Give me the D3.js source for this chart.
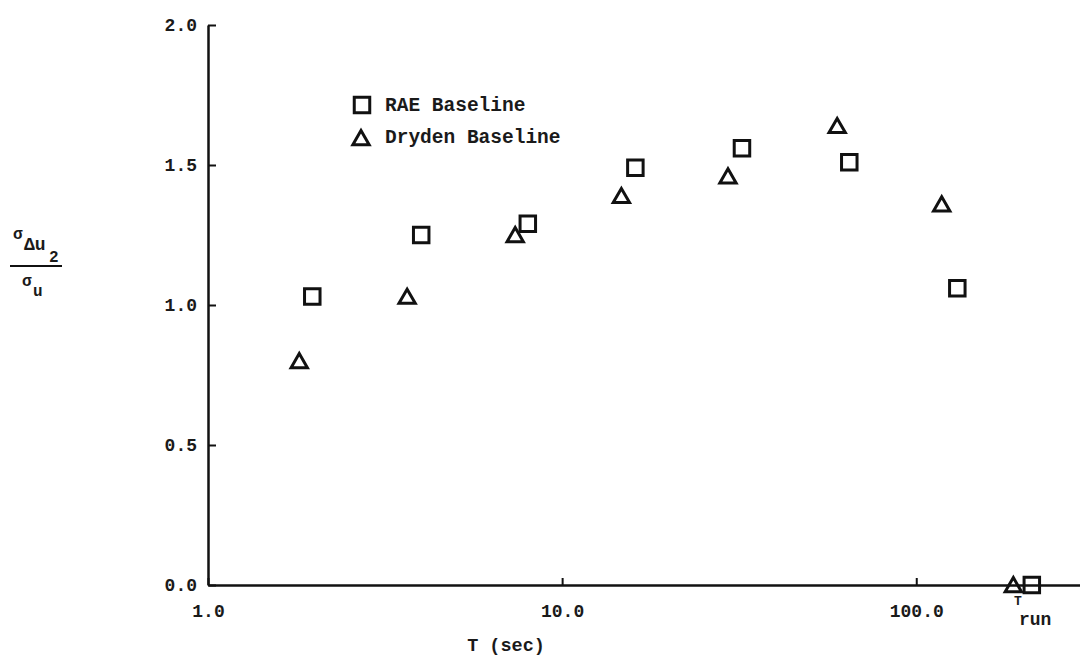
<!DOCTYPE html>
<html>
<head>
<meta charset="utf-8">
<script src="https://cdn.jsdelivr.net/npm/d3@7"></script>
<style>
  body { margin: 0; background: #fff; }
  text { font-family: "Liberation Mono", "DejaVu Sans Mono", monospace; fill: #1a1a1a; }
</style>
</head>
<body>
<svg id="drawing_region"></svg>
<script>
// values
const raeT = [1.97, 4.0, 8.0, 16.1, 32.2, 64.7, 130.6, 212];
const raeRatio = [1.03, 1.25, 1.29, 1.49, 1.56, 1.51, 1.06, 0.0];
const drydenT = [1.81, 3.65, 7.37, 14.7, 29.4, 59.8, 118, 188];
const drydenRatio = [0.80, 1.03, 1.25, 1.39, 1.46, 1.64, 1.36, 0.0];
const xTicks = [1, 10, 100];
const yTicks = [0, 0.5, 1.0, 1.5, 2.0];
const legendLabels = ["RAE Baseline", "Dryden Baseline"];

const width = 1080, height = 657;
const svg = d3.select('#drawing_region')
    .attr('width', width)
    .attr('height', height);

const x = d3.scaleLog()
    .domain([1, 290])
    .range([208, 1080]);

const y = d3.scaleLinear()
    .domain([0, 2])
    .range([585, 25]);

// axes, ticks pointing inward
const xAxis = svg.append('g')
    .attr('transform', `translate(0, ${y(0)})`)
    .call(d3.axisBottom(x)
        .tickValues(xTicks)
        .tickFormat(d3.format('.1f'))
        .tickSize(-7)
        .tickSizeOuter(0)
        .tickPadding(32));

const yAxis = svg.append('g')
    .attr('transform', `translate(${x(1)}, 0)`)
    .call(d3.axisLeft(y)
        .tickValues(yTicks)
        .tickFormat(d3.format('.1f'))
        .tickSize(-8)
        .tickSizeOuter(0)
        .tickPadding(11));

[xAxis, yAxis].forEach(g => {
    g.select('.domain').attr('stroke', '#111').attr('stroke-width', 2.5);
    g.selectAll('.tick line').attr('stroke', '#111').attr('stroke-width', 2);
    g.selectAll('.tick text')
        .attr('font-size', '18px')
        .attr('font-weight', 700)
        .style('font-family', '"Liberation Mono", monospace')
        .attr('fill', '#1a1a1a');
});
xAxis.selectAll('.tick text').attr('dy', '0');

// markers
const square = d3.symbol().type(d3.symbolSquare).size(240);
const triangle = d3.symbol().type(d3.symbolTriangle).size(115);

svg.append('g').selectAll('path')
    .data(raeT.map((t, i) => [t, raeRatio[i]]))
    .enter()
    .append('path')
    .attr('transform', d => `translate(${x(d[0])}, ${y(d[1])})`)
    .attr('d', square)
    .attr('fill', 'none')
    .attr('stroke', '#111')
    .attr('stroke-width', 3);

svg.append('g').selectAll('path')
    .data(drydenT.map((t, i) => [t, drydenRatio[i]]))
    .enter()
    .append('path')
    .attr('transform', d => `translate(${x(d[0])}, ${y(d[1]) + 2})`)
    .attr('d', triangle)
    .attr('fill', 'none')
    .attr('stroke', '#111')
    .attr('stroke-width', 3);

// legend
const legend = svg.append('g').attr('transform', 'translate(362, 105)');
legend.append('path')
    .attr('d', square)
    .attr('fill', 'none')
    .attr('stroke', '#111')
    .attr('stroke-width', 3);
legend.append('path')
    .attr('transform', 'translate(-1, 35)')
    .attr('d', triangle)
    .attr('fill', 'none')
    .attr('stroke', '#111')
    .attr('stroke-width', 3);
legend.selectAll('text')
    .data(legendLabels)
    .enter()
    .append('text')
    .attr('x', 23)
    .attr('y', (d, i) => i * 32 + 6)
    .attr('font-size', '19.5px')
    .attr('font-weight', 700)
    .text(d => d);

// x axis title and T_run
svg.append('text')
    .attr('x', 506)
    .attr('y', 651)
    .attr('text-anchor', 'middle')
    .attr('font-size', '18.5px')
    .attr('font-weight', 700)
    .text('T (sec)');

svg.append('text')
    .attr('x', 1014)
    .attr('y', 605)
    .attr('font-size', '13px')
    .attr('font-weight', 700)
    .text('T');
svg.append('text')
    .attr('x', 1019)
    .attr('y', 625)
    .attr('font-size', '18px')
    .attr('font-weight', 700)
    .text('run');

// y axis label: sigma_{Delta u_2} / sigma_u
const ylab = svg.append('g').attr('font-weight', 700);
ylab.append('text').attr('x', 13).attr('y', 239).attr('font-size', '16px').text('σ');
ylab.append('text').attr('x', 24).attr('y', 250).attr('font-size', '18px').text('Δu');
ylab.append('text').attr('x', 49).attr('y', 262).attr('font-size', '16px').text('2');
ylab.append('line')
    .attr('x1', 10).attr('x2', 62)
    .attr('y1', 266).attr('y2', 266)
    .attr('stroke', '#111').attr('stroke-width', 2);
ylab.append('text').attr('x', 22).attr('y', 286).attr('font-size', '16px').text('σ');
ylab.append('text').attr('x', 33).attr('y', 296).attr('font-size', '16px').text('u');
</script>
</body>
</html>
